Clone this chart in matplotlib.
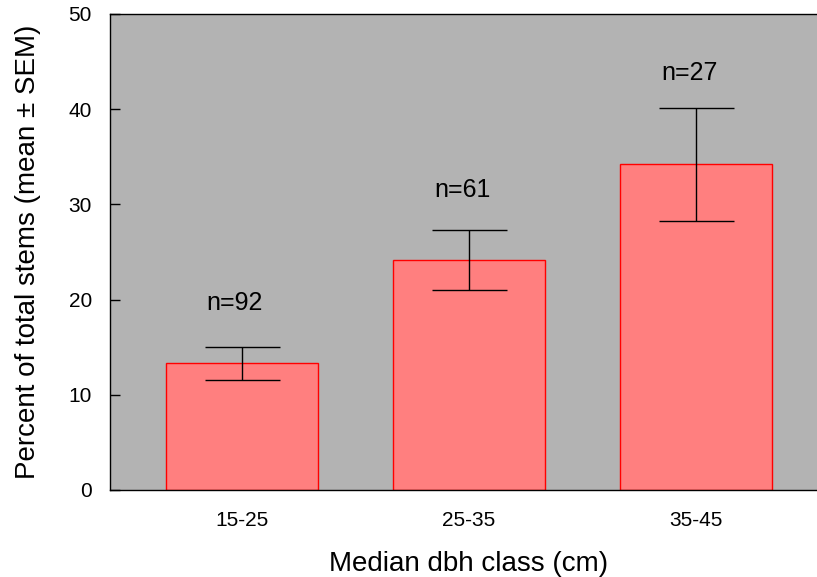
import matplotlib
matplotlib.use("Agg")
from matplotlib import pyplot as plt
import numpy as np

plt.rcParams['font.family'] = ['Liberation Sans', 'DejaVu Sans']

clases = ['15-25', '25-35', '35-45']
medias = [13.3, 24.2, 34.2]
sem = [1.7, 3.15, 5.9]
etiquetas_n = ['n=92', 'n=61', 'n=27']
posicion_n = [19.6, 31.5, 43.8]

fig = plt.figure(figsize=(8.17, 5.77), dpi=100)
ax = fig.add_axes([0.1346, 0.1508, 0.879, 0.825])
ax.set_facecolor('#b3b3b3')

x = np.arange(len(clases))
ax.bar(x, medias, width=0.67, color='#ff7f7f', edgecolor='red', linewidth=1, zorder=2)
ax.errorbar(x, medias, yerr=sem, fmt='none', ecolor='black', elinewidth=1,
            capsize=27, capthick=1, zorder=3)

for xi, txt, yi in zip(x, etiquetas_n, posicion_n):
    ax.text(xi - 0.03, yi, txt, ha='center', va='center', fontsize=18)

ax.set_xlim(-0.58, 2.58)
ax.set_ylim(0, 50)
ax.set_yticks([0, 10, 20, 30, 40, 50])
ax.set_xticks(x)
ax.set_xticklabels(clases)
ax.tick_params(axis='y', direction='in', length=7, width=1, pad=13, labelsize=15)
ax.tick_params(axis='x', length=0, pad=15, labelsize=15)
ax.spines['right'].set_visible(False)
for s in ['left', 'top', 'bottom']:
    ax.spines[s].set_linewidth(1)

ax.set_xlabel('Median dbh class (cm)', fontsize=20, labelpad=15)
ax.set_ylabel('Percent of total stems (mean \u00b1 SEM)', fontsize=20, labelpad=20)

fig.savefig('out.png', dpi=100)
